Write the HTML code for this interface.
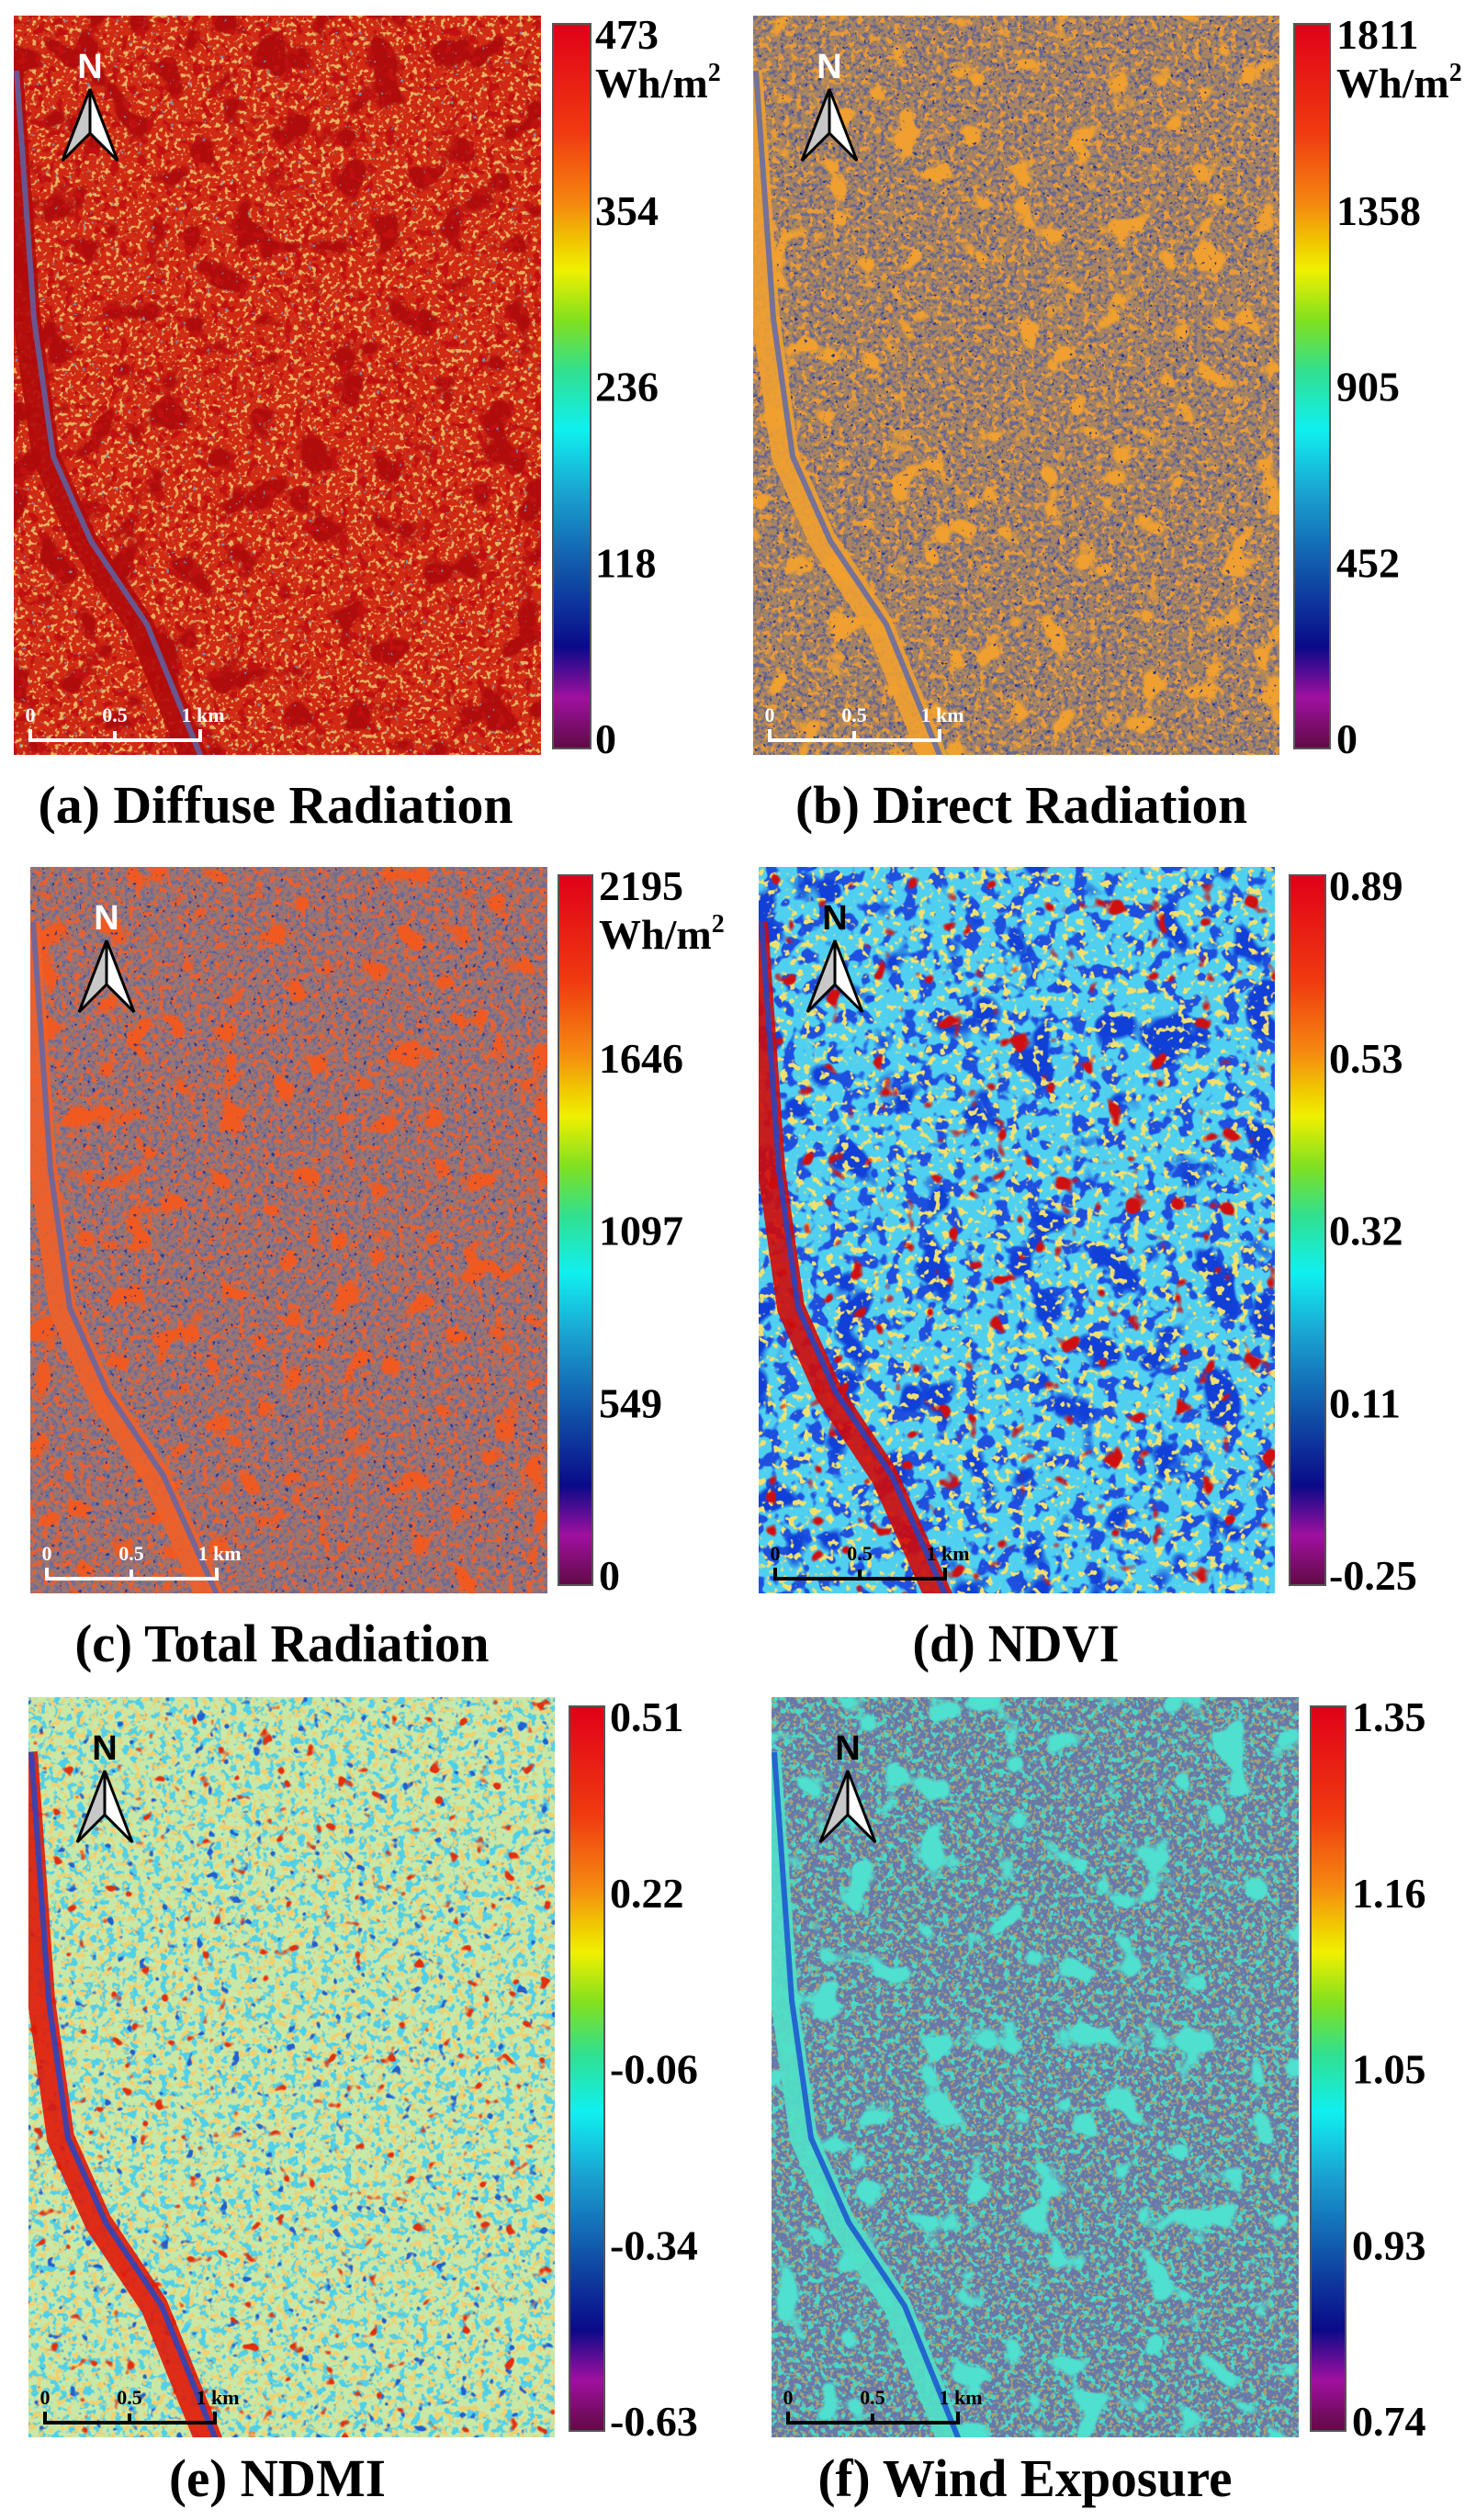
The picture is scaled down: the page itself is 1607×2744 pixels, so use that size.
<!DOCTYPE html>
<html><head><meta charset="utf-8">
<style>
html,body{margin:0;padding:0;background:#fff;}
body{width:1607px;height:2744px;overflow:hidden;position:relative;}
svg{position:absolute;left:0;top:0;}
text{font-family:"Liberation Serif",serif;font-weight:bold;}
</style></head>
<body>
<svg id="fig" width="1607" height="2744" viewBox="0 0 1607 2744" xmlns="http://www.w3.org/2000/svg">
<defs>
<linearGradient id="jet" x1="0" y1="0" x2="0" y2="1">
<stop offset="0" stop-color="#e00018"/><stop offset="0.15" stop-color="#f03a10"/>
<stop offset="0.25" stop-color="#f58a10"/><stop offset="0.31" stop-color="#f0d000"/>
<stop offset="0.34" stop-color="#f0f000"/><stop offset="0.41" stop-color="#80e020"/>
<stop offset="0.48" stop-color="#30e090"/><stop offset="0.56" stop-color="#10f0f0"/>
<stop offset="0.65" stop-color="#1aa0d0"/><stop offset="0.76" stop-color="#1050a8"/>
<stop offset="0.86" stop-color="#0a0a88"/><stop offset="0.93" stop-color="#a010a0"/>
<stop offset="1" stop-color="#600a45"/>
</linearGradient>
</defs>
</svg>
<script>
// colorbar tick labels (top to bottom)
const ticksA = ["473","354","236","118","0"];
const ticksB = ["1811","1358","905","452","0"];
const ticksC = ["2195","1646","1097","549","0"];
const ticksD = ["0.89","0.53","0.32","0.11","-0.25"];
const ticksE = ["0.51","0.22","-0.06","-0.34","-0.63"];
const ticksF = ["1.35","1.16","1.05","0.93","0.74"];
const captions = ["(a) Diffuse Radiation","(b) Direct Radiation","(c) Total Radiation","(d) NDVI","(e) NDMI","(f) Wind Exposure"];
const units = [true,true,true,false,false,false];

const NS="http://www.w3.org/2000/svg";
const svg=document.getElementById('fig');
const defs=svg.querySelector('defs');
function mk(tag,attrs,parent){const e=document.createElementNS(NS,tag);for(const k in attrs)e.setAttribute(k,attrs[k]);(parent||svg).appendChild(e);return e;}

const panels=[
 {id:'a',map:[15,17,574,805],cb:[602,26,41,789],lx:648,cap:[300,890,517],ticks:ticksA,dark:false,base:'#d02a14',
  layers:[['#e8b060',0.2,0.56,1],['#b00c0c',0.025,0.58,2],['#c01010',0.1,0.58,3],['#7a8ab0',0.2,0.72,4]],river:'#b00a0a'},
 {id:'b',map:[820,17,573,805],cb:[1409,26,39,789],lx:1455,cap:[1112,890,492],ticks:ticksB,dark:false,base:'#a88460',
  layers:[['#6a6890',0.22,0.52,5],['#e89a38',0.15,0.56,6],['#f0a030',0.03,0.62,7],['#283890',0.2,0.70,8]],river:'#f0a030'},
 {id:'c',map:[33,944,563,791],cb:[608,953,37,773],lx:652,cap:[307,1803,451],ticks:ticksC,dark:false,base:'#9c7470',
  layers:[['#6c6c98',0.22,0.52,9],['#e86030',0.15,0.55,10],['#f05a20',0.03,0.62,11],['#283890',0.2,0.70,12]],river:'#f06028'},
 {id:'d',map:[826,944,562,791],cb:[1404,953,39,773],lx:1447,cap:[1106,1803,225],ticks:ticksD,dark:true,base:'#50d0f0',
  layers:[['#1e50e0',0.06,0.53,13],['#1040d8',0.02,0.60,14],['#f0e070',0.12,0.58,15],['#d01010',0.04,0.69,16]],river:'#d00a0a'},
 {id:'e',map:[31,1848,573,806],cb:[620,1858,38,789],lx:664,cap:[302,2712,236],ticks:ticksE,dark:true,base:'#c8e8a8',
  layers:[['#50d0e8',0.12,0.52,17],['#f0d070',0.15,0.56,18],['#2060d0',0.08,0.69,19],['#e03010',0.06,0.70,20]],river:'#e01808'},
 {id:'f',map:[840,1848,574,806],cb:[1427,1858,38,789],lx:1472,cap:[1116,2712,451],ticks:ticksF,dark:true,base:'#6878a8',
  layers:[['#48d8c8',0.15,0.52,21],['#a8a070',0.25,0.56,22],['#50e0d0',0.025,0.62,23]],river:'#50e0c8'}
];

function hex(c){return [parseInt(c.substr(1,2),16)/255,parseInt(c.substr(3,2),16)/255,parseInt(c.substr(5,2),16)/255];}

panels.forEach((p,pi)=>{
  const [mx,my,mw,mh]=p.map;
  const g=mk('g',{});
  
  
  const cp=mk('clipPath',{id:'clip'+p.id},defs);
  mk('rect',{x:mx,y:my,width:mw,height:mh},cp);
  const inner=mk('g',{'clip-path':'url(#clip'+p.id+')'},g);
  const bg=mk('rect',{x:mx,y:my,width:mw,height:mh,fill:p.base},inner);
  
  
  p.layers.forEach((L,li)=>{
    const [col,freq,thr,seed]=L;const c=hex(col);
    const f=mk('filter',{id:'f'+p.id+li,x:mx,y:my,width:mw,height:mh,filterUnits:'userSpaceOnUse','color-interpolation-filters':'sRGB'},defs);
    mk('feTurbulence',{type:'fractalNoise',baseFrequency:freq,numOctaves:2,seed:seed},f);
    mk('feColorMatrix',{type:'matrix',values:`0 0 0 0 ${c[0]} 0 0 0 0 ${c[1]} 0 0 0 0 ${c[2]} 12 0 0 0 ${-12*thr}`},f);
    mk('rect',{x:mx,y:my,width:mw,height:mh,filter:'url(#f'+p.id+li+')'},inner);
  });
  // river
  const pts=[[0,130],[14,330],[35,480],[76,572],[137,663],[199,mh+10]];
  let d='M'+(mx-5)+','+(my+60);
  pts.forEach(q=>{d+=' L'+(mx+q[0])+','+(my+q[1]);});
  const rv=mk('path',{d:d,fill:'none',stroke:p.river,'stroke-width':30,'stroke-linejoin':'round',opacity:0.9},inner);
  
  
  mk('path',{d:d,fill:'none',stroke:p.dark?'#1848d0':'#5868b0','stroke-width':6,opacity:0.8,transform:'translate(8,0)'},inner);
  // north arrow
  const nx=mx+83, ny=my+40;
  const nc=p.dark?'#000':'#fff';
  const nt=mk('text',{x:nx,y:ny+28,'text-anchor':'middle','font-size':38,fill:nc,style:'font-family:"Liberation Sans",sans-serif;font-weight:bold'},g);
  nt.textContent='N';
  
  
  const ar=mk('g',{},g);
  
  
  const tx=nx, ty=ny+40;
  mk('path',{d:`M${tx},${ty} L${tx-30},${ty+78} L${tx},${ty+48} Z`,fill:'#c8c8c8',stroke:'#000','stroke-width':3},ar);
  mk('path',{d:`M${tx},${ty} L${tx+30},${ty+78} L${tx},${ty+48} Z`,fill:'#fff',stroke:'#000','stroke-width':3},ar);
  // scale bar
  const sc=p.dark?'#000':'#fff';
  const sb=mk('g',{},g);
  
  
  const sx=mx+18, sy=my+mh-16;
  mk('path',{d:`M${sx},${sy-12} V${sy} H${sx+185} V${sy-12} M${sx+92},${sy} V${sy-10}`,fill:'none',stroke:sc,'stroke-width':4},sb);
  [['0',sx],['0.5',sx+92],['1 km',sx+188]].forEach(s=>{
    const t=mk('text',{x:s[1],y:sy-20,'text-anchor':'middle','font-size':22,fill:sc},sb);
    t.textContent=s[0];
  });
  // colorbar
  const [cx,cy,cw,ch]=p.cb;
  const cb=mk('rect',{x:cx,y:cy,width:cw,height:ch,fill:'url(#jet)',stroke:'#555','stroke-width':2});
  
  
  p.ticks.forEach((t,i)=>{
    const y=cy+11+i*(ch-22)/(p.ticks.length-1);
    const tl=mk('text',{x:p.lx,y:y+16,'font-size':46,fill:'#000'});
    tl.textContent=t;
    
    
  });
  if(units[pi]){
    const u=mk('text',{x:p.lx,y:cy+80,'font-size':46,fill:'#000'});
    
    
    u.appendChild(document.createTextNode('Wh/m'));
    const sup=mk('tspan',{'font-size':28,dy:-18},u);sup.textContent='2';
  }
  const cap=mk('text',{x:p.cap[0]-p.cap[2]/2,y:p.cap[1]+6,'font-size':58,fill:'#000',textLength:p.cap[2],lengthAdjust:'spacingAndGlyphs'});
  cap.textContent=captions[pi];
  
  
});
</script>
</body></html>
